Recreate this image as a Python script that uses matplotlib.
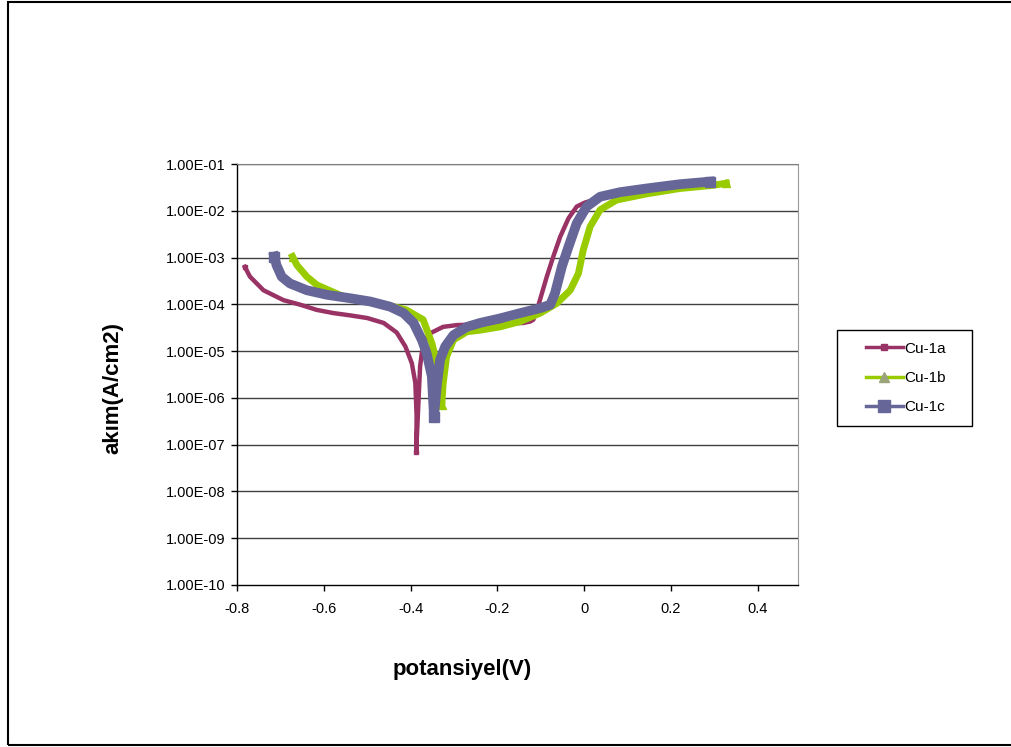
import numpy as np
import matplotlib
matplotlib.use('Agg')
import matplotlib.pyplot as plt
from matplotlib.patches import Rectangle
from matplotlib.lines import Line2D

plt.rcParams['font.family'] = ['Liberation Sans', 'DejaVu Sans']

# Cu-1a
E_a = [-0.782, -0.770, -0.739, -0.693, -0.654, -0.616, -0.578, -0.539, -0.500, -0.462,
       -0.432, -0.412, -0.397, -0.389, -0.386, -0.387,
       -0.378, -0.374, -0.366, -0.355, -0.325, -0.293, -0.25, -0.20, -0.14, -0.124, -0.117,
       -0.105, -0.086, -0.071, -0.055, -0.036, -0.017, 0.002, 0.04, 0.10, 0.15, 0.20, 0.27]
i_a = [6.3e-4, 3.9e-4, 2.0e-4, 1.23e-4, 9.8e-5, 7.6e-5, 6.5e-5, 5.8e-5, 5.1e-5, 4.0e-5,
       2.5e-5, 1.26e-5, 5.5e-6, 2.1e-6, 4.0e-7, 7.1e-8,
       4.7e-6, 9.1e-6, 1.74e-5, 2.4e-5, 3.3e-5, 3.6e-5, 3.7e-5, 3.8e-5, 4.0e-5, 4.3e-5, 4.7e-5,
       9.8e-5, 3.9e-4, 1.05e-3, 2.8e-3, 6.9e-3, 1.23e-2, 1.5e-2, 1.9e-2, 2.4e-2, 2.9e-2, 3.4e-2, 3.9e-2]

# Cu-1b
E_b = [-0.672, -0.662, -0.639, -0.616, -0.55, -0.50, -0.45, -0.41, -0.371, -0.351,
       -0.339, -0.330, -0.328, -0.325, -0.317, -0.301, -0.270, -0.240, -0.194, -0.147,
       -0.101, -0.063, -0.032, -0.013, -0.002, 0.014, 0.037, 0.075, 0.144, 0.221, 0.297, 0.328]
i_b = [1.05e-3, 6.9e-4, 3.9e-4, 2.6e-4, 1.4e-4, 1.17e-4, 9.5e-5, 7.6e-5, 4.7e-5, 1.48e-5,
       5.5e-6, 1.26e-6, 7.1e-7, 2.0e-6, 7.6e-6, 1.74e-5, 2.6e-5, 2.8e-5, 3.3e-5, 4.3e-5,
       6.5e-5, 1.05e-4, 2.0e-4, 4.6e-4, 1.45e-3, 4.6e-3, 1.05e-2, 1.7e-2, 2.3e-2, 3.0e-2, 3.5e-2, 3.9e-2]

# Cu-1c
E_c = [-0.714, -0.709, -0.697, -0.678, -0.639, -0.593, -0.539, -0.493, -0.447, -0.416,
       -0.393, -0.374, -0.363, -0.351, -0.346, -0.339, -0.332, -0.320, -0.301, -0.270,
       -0.240, -0.194, -0.147, -0.101, -0.078, -0.067, -0.051, -0.036, -0.017, 0.006,
       0.037, 0.083, 0.144, 0.221, 0.290]
i_c = [1.05e-3, 6.9e-4, 3.9e-4, 2.8e-4, 2.0e-4, 1.6e-4, 1.35e-4, 1.15e-4, 8.9e-5, 6.5e-5,
       4.0e-5, 1.74e-5, 9.1e-6, 2.9e-6, 4.0e-7, 2.0e-6, 6.5e-6, 1.26e-5, 2.2e-5, 3.3e-5,
       4.0e-5, 5.0e-5, 6.5e-5, 8.3e-5, 9.8e-5, 1.74e-4, 6.5e-4, 1.7e-3, 5.4e-3, 1.23e-2,
       2.0e-2, 2.5e-2, 3.0e-2, 3.7e-2, 4.2e-2]

labels = ['Cu-1a', 'Cu-1b', 'Cu-1c']
x_ticks = [-0.8, -0.6, -0.4, -0.2, 0, 0.2, 0.4]
x_labels = ['-0.8', '-0.6', '-0.4', '-0.2', '0', '0.2', '0.4']
y_ticks = [1e-10, 1e-9, 1e-8, 1e-7, 1e-6, 1e-5, 1e-4, 1e-3, 1e-2, 1e-1]
y_labels = ['1.00E-10', '1.00E-09', '1.00E-08', '1.00E-07', '1.00E-06',
            '1.00E-05', '1.00E-04', '1.00E-03', '1.00E-02', '1.00E-01']

fig = plt.figure(figsize=(10.12, 7.47), dpi=100)
fig.patches.append(Rectangle((8/1012, 2/747), 1.1, 743/747, transform=fig.transFigure,
                             fill=False, edgecolor='black', linewidth=1.5))

ax = fig.add_axes([237/1012, 1-585/747, 561/1012, 421/747])
ax.set_yscale('log')
ax.set_xlim(-0.8, 0.493)
ax.set_ylim(1e-10, 1e-1)

for y in y_ticks[1:]:
    ax.axhline(y, color='#404040', linewidth=1, zorder=1)

ax.plot(E_a, i_a, color='#993366', linewidth=3.2, marker='s', markersize=3.5,
        markevery=[0, 15], solid_joinstyle='round', zorder=3)
ax.plot(E_b, i_b, color='#99CC00', linewidth=5, marker='^', markersize=6,
        markevery=[0, 12, len(E_b)-1], solid_joinstyle='round', zorder=4)
ax.plot(E_c, i_c, color='#666699', linewidth=7, marker='s', markersize=7,
        markevery=[0, 14, len(E_c)-1], solid_joinstyle='round', zorder=5)

ax.set_xticks(x_ticks)
ax.set_xticklabels(x_labels)
ax.set_yticks(y_ticks)
ax.set_yticklabels(y_labels)
ax.yaxis.set_minor_locator(matplotlib.ticker.NullLocator())
ax.tick_params(direction='out', length=4, width=1, labelsize=10.5, colors='black')
ax.tick_params(axis='x', pad=8)
ax.tick_params(axis='y', pad=4)

for s in ['left', 'bottom']:
    ax.spines[s].set_color('black')
    ax.spines[s].set_linewidth(1)
ax.spines['right'].set_color('#999999')
ax.spines['top'].set_color('#808080')

fig.text(462/1012, 1-670/747, 'potansiyel(V)', fontsize=16, fontweight='bold',
         ha='center', va='center')
fig.text(113/1012, 1-388/747, 'akım(A/cm2)', fontsize=16, fontweight='bold',
         ha='center', va='center', rotation=90)

handles = [
    Line2D([], [], color='#993366', linewidth=2.5, marker='s', markersize=4),
    Line2D([], [], color='#99CC00', linewidth=2.5, marker='^', markersize=7,
           markerfacecolor='#9aa37a', markeredgecolor='#9aa37a'),
    Line2D([], [], color='#666699', linewidth=2.5, marker='s', markersize=8),
]
fig.patches.append(Rectangle((837/1012, 1-426/747), 135/1012, 96/747,
                             transform=fig.transFigure, fill=False,
                             edgecolor='black', linewidth=1))
leg = fig.legend(handles, labels, loc='center', bbox_to_anchor=(906/1012, 1-378/747),
                 fontsize=11, frameon=False, borderpad=0, labelspacing=1.0,
                 handlelength=2.4, handletextpad=0.1, borderaxespad=0)

fig.savefig('out.png', dpi=100)
